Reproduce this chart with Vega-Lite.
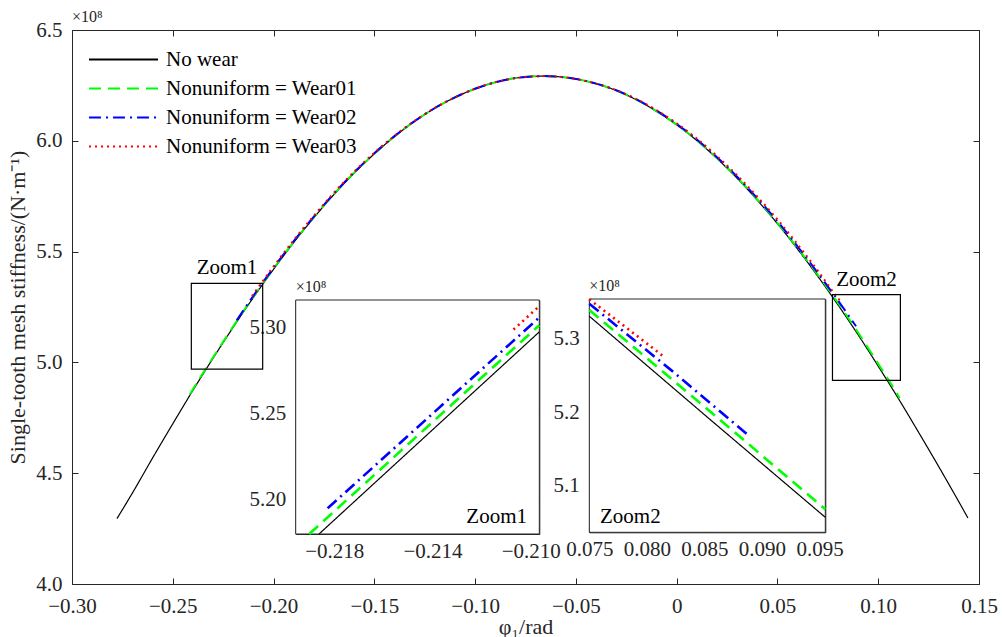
{
  "$schema": "https://vega.github.io/schema/vega-lite/v6.json",
  "width": 907,
  "height": 554,
  "autosize": "none",
  "padding": {"left": 72, "top": 30, "right": 23, "bottom": 53},
  "background": "white",
  "config": {
    "view": {"stroke": null},
    "font": "Liberation Serif",
    "axis": {
      "labelFont": "Liberation Serif", "labelFontSize": 21, "labelColor": "#262626",
      "titleFont": "Liberation Serif", "titleFontSize": 22, "titleColor": "#262626", "titleFontWeight": "normal",
      "domainColor": "#262626", "tickColor": "#262626", "tickSize": -6, "grid": false,
      "labelFlush": false, "labelOverlap": false, "domainWidth": 1, "tickWidth": 1, "zindex": 1
    },
    "legend": {
      "orient": "top-left", "offset": 0, "padding": 17, "title": null, "labelLimit": 0,
      "symbolType": "M-3,0H3", "symbolSize": 529, "symbolOffset": 22, "labelOffset": 30, "symbolStrokeWidth": 2,
      "rowPadding": 6, "labelFont": "Liberation Serif", "labelFontSize": 21, "labelColor": "#000000"
    }
  },
  "datasets": {
    "main": [
      {"x": -0.2777, "y": 4.295, "s": "No wear"},
      {"x": -0.27, "y": 4.411, "s": "No wear"},
      {"x": -0.26, "y": 4.569, "s": "No wear"},
      {"x": -0.25, "y": 4.723, "s": "No wear"},
      {"x": -0.24, "y": 4.874, "s": "No wear"},
      {"x": -0.23, "y": 5.019, "s": "No wear"},
      {"x": -0.22, "y": 5.159, "s": "No wear"},
      {"x": -0.21, "y": 5.293, "s": "No wear"},
      {"x": -0.20, "y": 5.420, "s": "No wear"},
      {"x": -0.19, "y": 5.541, "s": "No wear"},
      {"x": -0.18, "y": 5.653, "s": "No wear"},
      {"x": -0.17, "y": 5.758, "s": "No wear"},
      {"x": -0.16, "y": 5.854, "s": "No wear"},
      {"x": -0.15, "y": 5.941, "s": "No wear"},
      {"x": -0.14, "y": 6.019, "s": "No wear"},
      {"x": -0.13, "y": 6.088, "s": "No wear"},
      {"x": -0.12, "y": 6.147, "s": "No wear"},
      {"x": -0.11, "y": 6.196, "s": "No wear"},
      {"x": -0.10, "y": 6.235, "s": "No wear"},
      {"x": -0.09, "y": 6.264, "s": "No wear"},
      {"x": -0.08, "y": 6.283, "s": "No wear"},
      {"x": -0.07, "y": 6.291, "s": "No wear"},
      {"x": -0.066, "y": 6.292, "s": "No wear"},
      {"x": -0.06, "y": 6.290, "s": "No wear"},
      {"x": -0.05, "y": 6.279, "s": "No wear"},
      {"x": -0.04, "y": 6.258, "s": "No wear"},
      {"x": -0.03, "y": 6.227, "s": "No wear"},
      {"x": -0.02, "y": 6.185, "s": "No wear"},
      {"x": -0.01, "y": 6.133, "s": "No wear"},
      {"x": 0.00, "y": 6.072, "s": "No wear"},
      {"x": 0.01, "y": 6.001, "s": "No wear"},
      {"x": 0.02, "y": 5.920, "s": "No wear"},
      {"x": 0.03, "y": 5.831, "s": "No wear"},
      {"x": 0.04, "y": 5.732, "s": "No wear"},
      {"x": 0.05, "y": 5.626, "s": "No wear"},
      {"x": 0.06, "y": 5.511, "s": "No wear"},
      {"x": 0.07, "y": 5.389, "s": "No wear"},
      {"x": 0.08, "y": 5.260, "s": "No wear"},
      {"x": 0.09, "y": 5.125, "s": "No wear"},
      {"x": 0.10, "y": 4.983, "s": "No wear"},
      {"x": 0.11, "y": 4.837, "s": "No wear"},
      {"x": 0.12, "y": 4.685, "s": "No wear"},
      {"x": 0.13, "y": 4.530, "s": "No wear"},
      {"x": 0.14, "y": 4.371, "s": "No wear"},
      {"x": 0.1445, "y": 4.298, "s": "No wear"},

      {"x": -0.2415, "y": 4.856, "s": "Nonuniform = Wear01"},
      {"x": -0.24, "y": 4.879, "s": "Nonuniform = Wear01"},
      {"x": -0.23, "y": 5.023, "s": "Nonuniform = Wear01"},
      {"x": -0.22, "y": 5.163, "s": "Nonuniform = Wear01"},
      {"x": -0.21, "y": 5.297, "s": "Nonuniform = Wear01"},
      {"x": -0.20, "y": 5.424, "s": "Nonuniform = Wear01"},
      {"x": -0.19, "y": 5.544, "s": "Nonuniform = Wear01"},
      {"x": -0.18, "y": 5.656, "s": "Nonuniform = Wear01"},
      {"x": -0.17, "y": 5.760, "s": "Nonuniform = Wear01"},
      {"x": -0.16, "y": 5.856, "s": "Nonuniform = Wear01"},
      {"x": -0.15, "y": 5.942, "s": "Nonuniform = Wear01"},
      {"x": -0.14, "y": 6.020, "s": "Nonuniform = Wear01"},
      {"x": -0.13, "y": 6.089, "s": "Nonuniform = Wear01"},
      {"x": -0.12, "y": 6.147, "s": "Nonuniform = Wear01"},
      {"x": -0.11, "y": 6.196, "s": "Nonuniform = Wear01"},
      {"x": -0.10, "y": 6.235, "s": "Nonuniform = Wear01"},
      {"x": -0.09, "y": 6.264, "s": "Nonuniform = Wear01"},
      {"x": -0.08, "y": 6.283, "s": "Nonuniform = Wear01"},
      {"x": -0.07, "y": 6.291, "s": "Nonuniform = Wear01"},
      {"x": -0.066, "y": 6.292, "s": "Nonuniform = Wear01"},
      {"x": -0.06, "y": 6.290, "s": "Nonuniform = Wear01"},
      {"x": -0.05, "y": 6.279, "s": "Nonuniform = Wear01"},
      {"x": -0.04, "y": 6.258, "s": "Nonuniform = Wear01"},
      {"x": -0.03, "y": 6.227, "s": "Nonuniform = Wear01"},
      {"x": -0.02, "y": 6.186, "s": "Nonuniform = Wear01"},
      {"x": -0.01, "y": 6.134, "s": "Nonuniform = Wear01"},
      {"x": 0.00, "y": 6.073, "s": "Nonuniform = Wear01"},
      {"x": 0.01, "y": 6.003, "s": "Nonuniform = Wear01"},
      {"x": 0.02, "y": 5.922, "s": "Nonuniform = Wear01"},
      {"x": 0.03, "y": 5.834, "s": "Nonuniform = Wear01"},
      {"x": 0.04, "y": 5.735, "s": "Nonuniform = Wear01"},
      {"x": 0.05, "y": 5.630, "s": "Nonuniform = Wear01"},
      {"x": 0.06, "y": 5.516, "s": "Nonuniform = Wear01"},
      {"x": 0.07, "y": 5.396, "s": "Nonuniform = Wear01"},
      {"x": 0.08, "y": 5.269, "s": "Nonuniform = Wear01"},
      {"x": 0.09, "y": 5.135, "s": "Nonuniform = Wear01"},
      {"x": 0.10, "y": 4.994, "s": "Nonuniform = Wear01"},
      {"x": 0.11, "y": 4.849, "s": "Nonuniform = Wear01"},
      {"x": 0.1107, "y": 4.838, "s": "Nonuniform = Wear01"},

      {"x": -0.2183, "y": 5.190, "s": "Nonuniform = Wear02"},
      {"x": -0.21, "y": 5.301, "s": "Nonuniform = Wear02"},
      {"x": -0.20, "y": 5.427, "s": "Nonuniform = Wear02"},
      {"x": -0.19, "y": 5.547, "s": "Nonuniform = Wear02"},
      {"x": -0.18, "y": 5.658, "s": "Nonuniform = Wear02"},
      {"x": -0.17, "y": 5.762, "s": "Nonuniform = Wear02"},
      {"x": -0.16, "y": 5.858, "s": "Nonuniform = Wear02"},
      {"x": -0.15, "y": 5.944, "s": "Nonuniform = Wear02"},
      {"x": -0.14, "y": 6.021, "s": "Nonuniform = Wear02"},
      {"x": -0.13, "y": 6.089, "s": "Nonuniform = Wear02"},
      {"x": -0.12, "y": 6.148, "s": "Nonuniform = Wear02"},
      {"x": -0.11, "y": 6.196, "s": "Nonuniform = Wear02"},
      {"x": -0.10, "y": 6.235, "s": "Nonuniform = Wear02"},
      {"x": -0.09, "y": 6.264, "s": "Nonuniform = Wear02"},
      {"x": -0.08, "y": 6.283, "s": "Nonuniform = Wear02"},
      {"x": -0.07, "y": 6.291, "s": "Nonuniform = Wear02"},
      {"x": -0.066, "y": 6.292, "s": "Nonuniform = Wear02"},
      {"x": -0.06, "y": 6.290, "s": "Nonuniform = Wear02"},
      {"x": -0.05, "y": 6.279, "s": "Nonuniform = Wear02"},
      {"x": -0.04, "y": 6.258, "s": "Nonuniform = Wear02"},
      {"x": -0.03, "y": 6.228, "s": "Nonuniform = Wear02"},
      {"x": -0.02, "y": 6.187, "s": "Nonuniform = Wear02"},
      {"x": -0.01, "y": 6.136, "s": "Nonuniform = Wear02"},
      {"x": 0.00, "y": 6.076, "s": "Nonuniform = Wear02"},
      {"x": 0.01, "y": 6.006, "s": "Nonuniform = Wear02"},
      {"x": 0.02, "y": 5.926, "s": "Nonuniform = Wear02"},
      {"x": 0.03, "y": 5.838, "s": "Nonuniform = Wear02"},
      {"x": 0.04, "y": 5.741, "s": "Nonuniform = Wear02"},
      {"x": 0.05, "y": 5.637, "s": "Nonuniform = Wear02"},
      {"x": 0.06, "y": 5.523, "s": "Nonuniform = Wear02"},
      {"x": 0.07, "y": 5.404, "s": "Nonuniform = Wear02"},
      {"x": 0.08, "y": 5.280, "s": "Nonuniform = Wear02"},
      {"x": 0.089, "y": 5.163, "s": "Nonuniform = Wear02"},

      {"x": -0.2107, "y": 5.299, "s": "Nonuniform = Wear03"},
      {"x": -0.21, "y": 5.308, "s": "Nonuniform = Wear03"},
      {"x": -0.20, "y": 5.433, "s": "Nonuniform = Wear03"},
      {"x": -0.19, "y": 5.552, "s": "Nonuniform = Wear03"},
      {"x": -0.18, "y": 5.662, "s": "Nonuniform = Wear03"},
      {"x": -0.17, "y": 5.766, "s": "Nonuniform = Wear03"},
      {"x": -0.16, "y": 5.861, "s": "Nonuniform = Wear03"},
      {"x": -0.15, "y": 5.946, "s": "Nonuniform = Wear03"},
      {"x": -0.14, "y": 6.023, "s": "Nonuniform = Wear03"},
      {"x": -0.13, "y": 6.090, "s": "Nonuniform = Wear03"},
      {"x": -0.12, "y": 6.148, "s": "Nonuniform = Wear03"},
      {"x": -0.11, "y": 6.196, "s": "Nonuniform = Wear03"},
      {"x": -0.10, "y": 6.235, "s": "Nonuniform = Wear03"},
      {"x": -0.09, "y": 6.264, "s": "Nonuniform = Wear03"},
      {"x": -0.08, "y": 6.283, "s": "Nonuniform = Wear03"},
      {"x": -0.07, "y": 6.291, "s": "Nonuniform = Wear03"},
      {"x": -0.066, "y": 6.292, "s": "Nonuniform = Wear03"},
      {"x": -0.06, "y": 6.290, "s": "Nonuniform = Wear03"},
      {"x": -0.05, "y": 6.279, "s": "Nonuniform = Wear03"},
      {"x": -0.04, "y": 6.258, "s": "Nonuniform = Wear03"},
      {"x": -0.03, "y": 6.229, "s": "Nonuniform = Wear03"},
      {"x": -0.02, "y": 6.188, "s": "Nonuniform = Wear03"},
      {"x": -0.01, "y": 6.138, "s": "Nonuniform = Wear03"},
      {"x": 0.00, "y": 6.079, "s": "Nonuniform = Wear03"},
      {"x": 0.01, "y": 6.010, "s": "Nonuniform = Wear03"},
      {"x": 0.02, "y": 5.931, "s": "Nonuniform = Wear03"},
      {"x": 0.03, "y": 5.844, "s": "Nonuniform = Wear03"},
      {"x": 0.04, "y": 5.748, "s": "Nonuniform = Wear03"},
      {"x": 0.05, "y": 5.645, "s": "Nonuniform = Wear03"},
      {"x": 0.06, "y": 5.533, "s": "Nonuniform = Wear03"},
      {"x": 0.07, "y": 5.414, "s": "Nonuniform = Wear03"},
      {"x": 0.08, "y": 5.290, "s": "Nonuniform = Wear03"},
      {"x": 0.0814, "y": 5.274, "s": "Nonuniform = Wear03"}
    ],
    "z1": [
      {"x": -0.21862, "y": 5.1796, "s": "No wear"},
      {"x": -0.214, "y": 5.2403, "s": "No wear"},
      {"x": -0.20965, "y": 5.2974, "s": "No wear"},
      {"x": -0.21902, "y": 5.1796, "s": "Nonuniform = Wear01"},
      {"x": -0.214, "y": 5.2448, "s": "Nonuniform = Wear01"},
      {"x": -0.20965, "y": 5.3013, "s": "Nonuniform = Wear01"},
      {"x": -0.21827, "y": 5.1946, "s": "Nonuniform = Wear02"},
      {"x": -0.214, "y": 5.2497, "s": "Nonuniform = Wear02"},
      {"x": -0.20965, "y": 5.3058, "s": "Nonuniform = Wear02"},
      {"x": -0.2107, "y": 5.2988, "s": "Nonuniform = Wear03"},
      {"x": -0.20965, "y": 5.3124, "s": "Nonuniform = Wear03"}
    ],
    "z2": [
      {"x": 0.075, "y": 5.331, "s": "No wear"},
      {"x": 0.085, "y": 5.197, "s": "No wear"},
      {"x": 0.0955, "y": 5.0574, "s": "No wear"},
      {"x": 0.075, "y": 5.3395, "s": "Nonuniform = Wear01"},
      {"x": 0.085, "y": 5.208, "s": "Nonuniform = Wear01"},
      {"x": 0.0955, "y": 5.0683, "s": "Nonuniform = Wear01"},
      {"x": 0.075, "y": 5.348, "s": "Nonuniform = Wear02"},
      {"x": 0.082, "y": 5.259, "s": "Nonuniform = Wear02"},
      {"x": 0.0889, "y": 5.168, "s": "Nonuniform = Wear02"},
      {"x": 0.075, "y": 5.354, "s": "Nonuniform = Wear03"},
      {"x": 0.078, "y": 5.318, "s": "Nonuniform = Wear03"},
      {"x": 0.0814, "y": 5.2769, "s": "Nonuniform = Wear03"}
    ],
    "boxes": [
      {"name": "Zoom1", "x0": -0.2408, "x1": -0.2054, "y0": 4.970, "y1": 5.357, "xc": -0.2231},
      {"name": "Zoom2", "x0": 0.0773, "x1": 0.1110, "y0": 4.919, "y1": 5.3055, "xc": 0.0942}
    ]
  },
  "layer": [
    {
      "layer": [
        {
          "data": {"name": "main"},
          "transform": [{"filter": "datum.s == 'No wear'"}],
          "mark": {"type": "line", "interpolate": "monotone", "strokeWidth": 1.2},
          "encoding": {
            "x": {"field": "x", "type": "quantitative",
              "scale": {"domain": [-0.30, 0.15], "zero": false, "nice": false},
              "axis": {"orient": "bottom", "values": [-0.30, -0.25, -0.20, -0.15, -0.10, -0.05, 0, 0.05, 0.10, 0.15],
                "labelExpr": "datum.value == 0 ? '0' : format(datum.value, '.2f')", "title": "φ₁/rad", "labelPadding": 17, "titlePadding": 0}},
            "y": {"field": "y", "type": "quantitative",
              "scale": {"domain": [4.0, 6.5], "zero": false, "nice": false},
              "axis": {"orient": "left", "values": [4.0, 4.5, 5.0, 5.5, 6.0, 6.5], "format": ".1f",
                "title": "Single-tooth mesh stiffness/(N·m⁻¹)", "labelPadding": 16, "titlePadding": 6}},
            "color": {"field": "s", "type": "nominal",
              "scale": {"domain": ["No wear", "Nonuniform = Wear01", "Nonuniform = Wear02", "Nonuniform = Wear03"],
                "range": ["#000000", "#00FF00", "#0000FF", "#FF0000"]}},
            "strokeDash": {"field": "s", "type": "nominal",
              "scale": {"domain": ["No wear", "Nonuniform = Wear01", "Nonuniform = Wear02", "Nonuniform = Wear03"],
                "range": [[1, 0], [12, 7], [12, 5, 2, 5], [2, 4]]}}
          }
        },
        {
          "data": {"name": "main"},
          "transform": [{"filter": "datum.s != 'No wear'"}],
          "mark": {"type": "line", "interpolate": "monotone", "strokeWidth": 2},
          "encoding": {
            "x": {"field": "x", "type": "quantitative", "axis": null},
            "y": {"field": "y", "type": "quantitative", "axis": null},
            "color": {"field": "s", "type": "nominal"},
            "strokeDash": {"field": "s", "type": "nominal"}
          }
        },
        {
          "data": {"name": "boxes"},
          "mark": {"type": "rect", "fill": null, "fillOpacity": 0, "stroke": "#000000", "strokeWidth": 1.2},
          "encoding": {
            "x": {"field": "x0", "type": "quantitative",
              "axis": {"orient": "top", "labels": false, "title": null, "values": [-0.30, -0.25, -0.20, -0.15, -0.10, -0.05, 0, 0.05, 0.10, 0.15]}},
            "x2": {"field": "x1"},
            "y": {"field": "y0", "type": "quantitative",
              "axis": {"orient": "right", "labels": false, "title": null, "values": [4.0, 4.5, 5.0, 5.5, 6.0, 6.5]}},
            "y2": {"field": "y1"}
          }
        },
        {
          "data": {"name": "boxes"},
          "mark": {"type": "text", "align": "center", "baseline": "alphabetic", "dy": -9, "font": "Liberation Serif", "fontSize": 21, "color": "#000000"},
          "encoding": {
            "x": {"field": "xc", "type": "quantitative", "axis": null},
            "y": {"field": "y1", "type": "quantitative", "axis": null},
            "text": {"field": "name"}
          }
        },
        {
          "data": {"values": [{}]},
          "mark": {"type": "text", "align": "left", "baseline": "alphabetic", "dy": -8, "font": "Liberation Serif", "fontSize": 16, "color": "#262626"},
          "encoding": {
            "x": {"datum": -0.30, "type": "quantitative", "axis": null},
            "y": {"datum": 6.5, "type": "quantitative", "axis": null},
            "text": {"value": "×10⁸"}
          }
        }
      ],
      "resolve": {"axis": {"x": "independent", "y": "independent"}}
    },
    {
      "layer": [
        {
          "data": {"values": [{}]},
          "mark": {"type": "rect", "fill": "white", "stroke": "#262626", "strokeWidth": 1},
          "encoding": {
            "x": {"datum": -0.21957, "type": "quantitative",
              "scale": {"domain": [-0.21957, -0.20965], "range": [223.7, 467.3], "zero": false, "nice": false},
              "axis": {"orient": "bottom", "offset": -50, "values": [-0.218, -0.216, -0.214, -0.212, -0.210],
                "labelExpr": "abs(round(datum.value*1000)) % 4 == 0 ? '' : format(datum.value, '.3f')", "title": null, "labelPadding": 12}},
            "x2": {"datum": -0.20965},
            "y": {"datum": 5.1796, "type": "quantitative",
              "scale": {"domain": [5.1796, 5.316], "range": [504, 270], "zero": false, "nice": false},
              "axis": {"orient": "left", "offset": -223.7, "values": [5.20, 5.25, 5.30], "format": ".2f", "title": null, "labelPadding": 16}},
            "y2": {"datum": 5.316}
          }
        },
        {
          "data": {"name": "z1"},
          "transform": [{"filter": "datum.s == 'No wear'"}],
          "mark": {"type": "line", "strokeWidth": 1.2},
          "encoding": {
            "x": {"field": "x", "type": "quantitative",
              "axis": {"orient": "top", "offset": -270, "labels": false, "title": null, "values": [-0.218, -0.216, -0.214, -0.212, -0.210]}},
            "y": {"field": "y", "type": "quantitative",
              "axis": {"orient": "right", "offset": -439.7, "labels": false, "title": null, "values": [5.20, 5.25, 5.30]}},
            "color": {"field": "s", "type": "nominal"},
            "strokeDash": {"field": "s", "type": "nominal"}
          }
        },
        {
          "data": {"name": "z1"},
          "transform": [{"filter": "datum.s != 'No wear'"}],
          "mark": {"type": "line", "strokeWidth": 2.6},
          "encoding": {
            "x": {"field": "x", "type": "quantitative", "axis": null},
            "y": {"field": "y", "type": "quantitative", "axis": null},
            "color": {"field": "s", "type": "nominal"},
            "strokeDash": {"field": "s", "type": "nominal"}
          }
        },
        {
          "data": {"values": [{}]},
          "mark": {"type": "text", "align": "right", "baseline": "alphabetic", "font": "Liberation Serif", "fontSize": 21, "color": "#000000"},
          "encoding": {
            "x": {"datum": -0.21015, "type": "quantitative", "axis": null},
            "y": {"datum": 5.1862, "type": "quantitative", "axis": null},
            "text": {"value": "Zoom1"}
          }
        },
        {
          "data": {"values": [{}]},
          "mark": {"type": "text", "align": "left", "baseline": "alphabetic", "dy": -8, "font": "Liberation Serif", "fontSize": 16, "color": "#262626"},
          "encoding": {
            "x": {"datum": -0.21957, "type": "quantitative", "axis": null},
            "y": {"datum": 5.316, "type": "quantitative", "axis": null},
            "text": {"value": "×10⁸"}
          }
        }
      ],
      "resolve": {"axis": {"x": "independent", "y": "independent"}}
    },
    {
      "layer": [
        {
          "data": {"values": [{}]},
          "mark": {"type": "rect", "fill": "white", "stroke": "#262626", "strokeWidth": 1},
          "encoding": {
            "x": {"datum": 0.075, "type": "quantitative",
              "scale": {"domain": [0.075, 0.0955], "range": [517.3, 753.3], "zero": false, "nice": false},
              "axis": {"orient": "bottom", "offset": -51.7, "values": [0.075, 0.080, 0.085, 0.090, 0.095], "format": ".3f", "title": null, "labelPadding": 12}},
            "x2": {"datum": 0.0955},
            "y": {"datum": 5.037, "type": "quantitative",
              "scale": {"domain": [5.037, 5.3544], "range": [502.3, 269], "zero": false, "nice": false},
              "axis": {"orient": "left", "offset": -517.3, "values": [5.1, 5.2, 5.3], "format": ".1f", "title": null, "labelPadding": 16}},
            "y2": {"datum": 5.3544}
          }
        },
        {
          "data": {"name": "z2"},
          "transform": [{"filter": "datum.s == 'No wear'"}],
          "mark": {"type": "line", "strokeWidth": 1.2},
          "encoding": {
            "x": {"field": "x", "type": "quantitative",
              "axis": {"orient": "top", "offset": -269, "labels": false, "title": null, "values": [0.075, 0.080, 0.085, 0.090, 0.095]}},
            "y": {"field": "y", "type": "quantitative",
              "axis": {"orient": "right", "offset": -153.7, "labels": false, "title": null, "values": [5.1, 5.2, 5.3]}},
            "color": {"field": "s", "type": "nominal"},
            "strokeDash": {"field": "s", "type": "nominal"}
          }
        },
        {
          "data": {"name": "z2"},
          "transform": [{"filter": "datum.s != 'No wear'"}],
          "mark": {"type": "line", "strokeWidth": 2.6},
          "encoding": {
            "x": {"field": "x", "type": "quantitative", "axis": null},
            "y": {"field": "y", "type": "quantitative", "axis": null},
            "color": {"field": "s", "type": "nominal"},
            "strokeDash": {"field": "s", "type": "nominal"}
          }
        },
        {
          "data": {"values": [{}]},
          "mark": {"type": "text", "align": "left", "baseline": "alphabetic", "font": "Liberation Serif", "fontSize": 21, "color": "#000000"},
          "encoding": {
            "x": {"datum": 0.07593, "type": "quantitative", "axis": null},
            "y": {"datum": 5.0501, "type": "quantitative", "axis": null},
            "text": {"value": "Zoom2"}
          }
        },
        {
          "data": {"values": [{}]},
          "mark": {"type": "text", "align": "left", "baseline": "alphabetic", "dy": -8, "font": "Liberation Serif", "fontSize": 16, "color": "#262626"},
          "encoding": {
            "x": {"datum": 0.075, "type": "quantitative", "axis": null},
            "y": {"datum": 5.3544, "type": "quantitative", "axis": null},
            "text": {"value": "×10⁸"}
          }
        }
      ],
      "resolve": {"axis": {"x": "independent", "y": "independent"}}
    }
  ],
  "resolve": {
    "scale": {"x": "independent", "y": "independent"},
    "axis": {"x": "independent", "y": "independent"}
  }
}
